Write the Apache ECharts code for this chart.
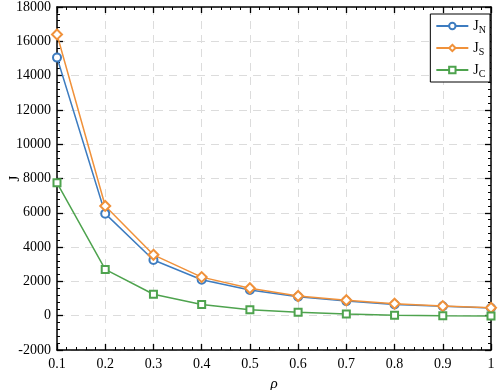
<!DOCTYPE html>
<html>
<head>
<meta charset="utf-8">
<script src="https://cdn.jsdelivr.net/npm/echarts@6/dist/echarts.min.js"></script>
<style>
  html, body { margin: 0; padding: 0; background: #fff; }
  #chart { width: 498px; height: 390px; }
</style>
</head>
<body>
<div id="chart"></div>
<script>
// rho values on the x axis
const rho = [0.1, 0.2, 0.3, 0.4, 0.5, 0.6, 0.7, 0.8, 0.9, 1.0];
// series values
const jN = [15050, 5950, 3250, 2100, 1500, 1100, 850, 650, 550, 450];
const jS = [16400, 6400, 3550, 2250, 1600, 1150, 900, 700, 560, 460];
const jC = [7750, 2700, 1250, 650, 350, 200, 100, 30, 0, -20];

const FONT = 'Liberation Serif';
const pair = (ys) => rho.map((x, i) => [x, ys[i]]);

const chart = echarts.init(document.getElementById('chart'));

const xRange = { min: 0.1, max: 1, interval: 0.1 };
const yRange = { min: -2000, max: 18000, interval: 2000 };

function axisStyle(extra) {
  return Object.assign({
    type: 'value',
    axisLine: { show: true, onZero: false, lineStyle: { color: '#000', width: 1.5 } },
    axisTick: { show: false },
    minorTick: { show: false },
    axisLabel: { show: false },
    splitLine: { show: false }
  }, extra);
}

// inward ticks: extra axes pulled into the plot, their outward ticks reach back to the frame
function tickAxes(position, range) {
  const base = { position: position, axisLine: { show: false, onZero: false }, silent: true };
  return [
    axisStyle(Object.assign({}, range, base, {
      offset: -6,
      axisTick: { show: true, length: 6, lineStyle: { color: '#000', width: 1.3 } }
    })),
    axisStyle(Object.assign({}, range, base, {
      offset: -3,
      minorTick: { show: true, splitNumber: 5, length: 3, lineStyle: { color: '#000', width: 1 } }
    }))
  ];
}

const gridLine = { show: true, lineStyle: { color: '#dcdcdc', type: [8, 6], width: 1 } };

const option = {
  backgroundColor: '#fff',
  animation: false,
  grid: { left: 57, right: 7, top: 7, bottom: 40, outerBoundsMode: 'none', containLabel: false },
  legend: {
    orient: 'vertical',
    right: 8,
    top: 14,
    z: 10,
    backgroundColor: '#fff',
    borderColor: '#000',
    borderWidth: 1,
    padding: [5, 4, 3, 5],
    itemWidth: 32,
    itemHeight: 8,
    itemGap: 6,
    textStyle: {
      fontFamily: FONT,
      color: '#000',
      rich: {
        b: { fontFamily: FONT, fontSize: 14, color: '#000' },
        s: { fontFamily: FONT, fontSize: 10, color: '#000', padding: [8, 0, 0, 0] }
      }
    },
    formatter: (name) => '{b|J}{s|' + name.slice(2) + '}',
    data: ['J_N', 'J_S', 'J_C']
  },
  xAxis: [
    axisStyle(Object.assign({}, xRange, {
      position: 'bottom',
      name: 'ρ', nameLocation: 'middle', nameGap: 27, nameMoveOverlap: false,
      nameTextStyle: { fontFamily: FONT, fontSize: 15, fontStyle: 'italic', color: '#000' },
      axisLabel: { show: true, color: '#000', fontFamily: FONT, fontSize: 14, margin: 7,
        formatter: (v) => String(+v.toFixed(1)) },
      splitLine: gridLine
    })),
    axisStyle(Object.assign({}, xRange, { position: 'top' })),
    ...tickAxes('bottom', xRange),
    ...tickAxes('top', xRange)
  ],
  yAxis: [
    axisStyle(Object.assign({}, yRange, {
      position: 'left',
      name: 'J', nameLocation: 'middle', nameGap: 34, nameMoveOverlap: false,
      nameTextStyle: { fontFamily: FONT, fontSize: 15, color: '#000' },
      axisLabel: { show: true, color: '#000', fontFamily: FONT, fontSize: 14, margin: 6,
        formatter: (v) => String(v) },
      splitLine: gridLine
    })),
    axisStyle(Object.assign({}, yRange, { position: 'right' })),
    ...tickAxes('left', yRange),
    ...tickAxes('right', yRange)
  ],
  series: [
    {
      name: 'J_N', type: 'line', data: pair(jN),
      symbol: 'emptyCircle', symbolSize: 8,
      lineStyle: { color: '#3d7cc0', width: 1.5 },
      itemStyle: { color: '#3d7cc0', borderWidth: 1.5 }
    },
    {
      name: 'J_S', type: 'line', data: pair(jS),
      symbol: 'emptyDiamond', symbolSize: 10,
      lineStyle: { color: '#f0913a', width: 1.5 },
      itemStyle: { color: '#f0913a', borderWidth: 1.5 }
    },
    {
      name: 'J_C', type: 'line', data: pair(jC),
      symbol: 'emptyRect', symbolSize: 7,
      lineStyle: { color: '#4ea34e', width: 1.5 },
      itemStyle: { color: '#4ea34e', borderWidth: 1.5 }
    }
  ]
};

chart.setOption(option);
</script>
</body>
</html>
